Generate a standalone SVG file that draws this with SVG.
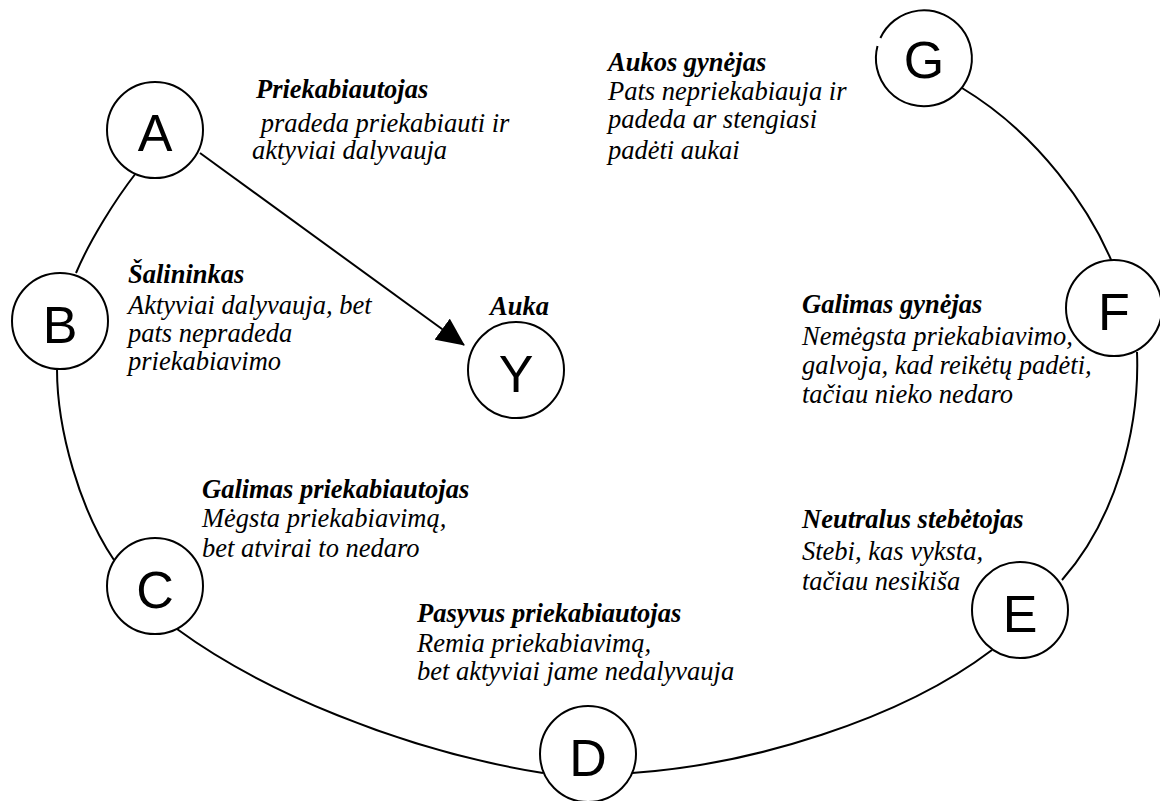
<svg xmlns="http://www.w3.org/2000/svg" width="1160" height="801" viewBox="0 0 1160 801">
<style>
.ring{fill:none;stroke:#000;stroke-width:2}
.node circle,.node path{fill:#fff;stroke:#000;stroke-width:2}
.letter{font-family:'Liberation Sans',Arial,sans-serif;font-size:52px;text-anchor:middle;fill:#000}
.lbl{font-family:'Liberation Serif','Times New Roman',serif;font-size:26.5px;font-style:italic;fill:#000}
.t{font-weight:bold}
</style>
<defs>
<marker id="arrow" markerUnits="userSpaceOnUse" markerWidth="28" markerHeight="26" refX="27" refY="13" orient="auto">
<path d="M0,0 L28,13 L0,26 z" fill="#000"/>
</marker>
</defs>
<rect width="1160" height="801" fill="#fff"/>
<g id="connectors">
<path class="ring" d="M962,88 C1040,135 1090,210 1112,262"/>
<path class="ring" d="M1137,352 C1140,430 1115,520 1062,580"/>
<path class="ring" d="M992,650 C900,720 750,765 632,773"/>
<path class="ring" d="M543,773 C400,750 260,690 177,629"/>
<path class="ring" d="M114,560 C80,510 57,430 57,369"/>
<path class="ring" d="M76,273 C90,240 115,200 136,173"/>
<line x1="200" y1="153" x2="464" y2="345" stroke="#000" stroke-width="2" marker-end="url(#arrow)"/>
</g>
<g id="node-A" class="node"><circle cx="155" cy="130" r="48"/><text class="letter" x="155" y="151">A</text></g>
<g id="node-B" class="node"><circle cx="60" cy="321" r="48"/><text class="letter" x="60" y="343">B</text></g>
<g id="node-C" class="node"><circle cx="155" cy="586" r="48"/><text class="letter" x="155" y="608">C</text></g>
<g id="node-D" class="node"><circle cx="588" cy="754" r="48"/><text class="letter" x="588" y="776">D</text></g>
<g id="node-E" class="node"><circle cx="1020" cy="610" r="48"/><text class="letter" x="1020" y="632">E</text></g>
<g id="node-F" class="node"><circle cx="1114" cy="308" r="48"/><text class="letter" x="1114" y="330">F</text></g>
<g id="node-G" class="node"><path d="M880.4,38 A48,48 0 1 1 877.5,46"/><text class="letter" x="924" y="78">G</text></g>
<g id="node-Y" class="node"><circle cx="516" cy="370" r="48"/><text class="letter" x="516" y="392">Y</text></g>
<g id="label-A"><text class="lbl"><tspan class="t" x="256" y="98">Priekabiautojas</tspan><tspan x="254" y="132"> pradeda priekabiauti ir</tspan><tspan x="252" y="159">aktyviai dalyvauja</tspan></text></g>
<g id="label-G"><text class="lbl"><tspan class="t" x="608" y="71">Aukos gynėjas</tspan><tspan x="608" y="100">Pats nepriekabiauja ir</tspan><tspan x="608" y="128">padeda ar stengiasi</tspan><tspan x="608" y="159">padėti aukai</tspan></text></g>
<g id="label-B"><text class="lbl"><tspan class="t" x="128" y="283">Šalininkas</tspan><tspan x="128" y="314">Aktyviai dalyvauja, bet</tspan><tspan x="128" y="342">pats nepradeda</tspan><tspan x="128" y="370">priekabiavimo</tspan></text></g>
<g id="label-Y"><text class="lbl t" x="490" y="315">Auka</text></g>
<g id="label-F"><text class="lbl"><tspan class="t" x="802" y="313">Galimas gynėjas</tspan><tspan x="802" y="345">Nemėgsta priekabiavimo,</tspan><tspan x="802" y="374">galvoja, kad reikėtų padėti,</tspan><tspan x="802" y="403">tačiau nieko nedaro</tspan></text></g>
<g id="label-C"><text class="lbl"><tspan class="t" x="202" y="498">Galimas priekabiautojas</tspan><tspan x="202" y="527">Mėgsta priekabiavimą,</tspan><tspan x="202" y="557">bet atvirai to nedaro</tspan></text></g>
<g id="label-D"><text class="lbl"><tspan class="t" x="417" y="622">Pasyvus priekabiautojas</tspan><tspan x="417" y="652">Remia priekabiavimą,</tspan><tspan x="417" y="680">bet aktyviai jame nedalyvauja</tspan></text></g>
<g id="label-E"><text class="lbl"><tspan class="t" x="802" y="528">Neutralus stebėtojas</tspan><tspan x="802" y="560">Stebi, kas vyksta,</tspan><tspan x="802" y="590">tačiau nesikiša</tspan></text></g>
</svg>
